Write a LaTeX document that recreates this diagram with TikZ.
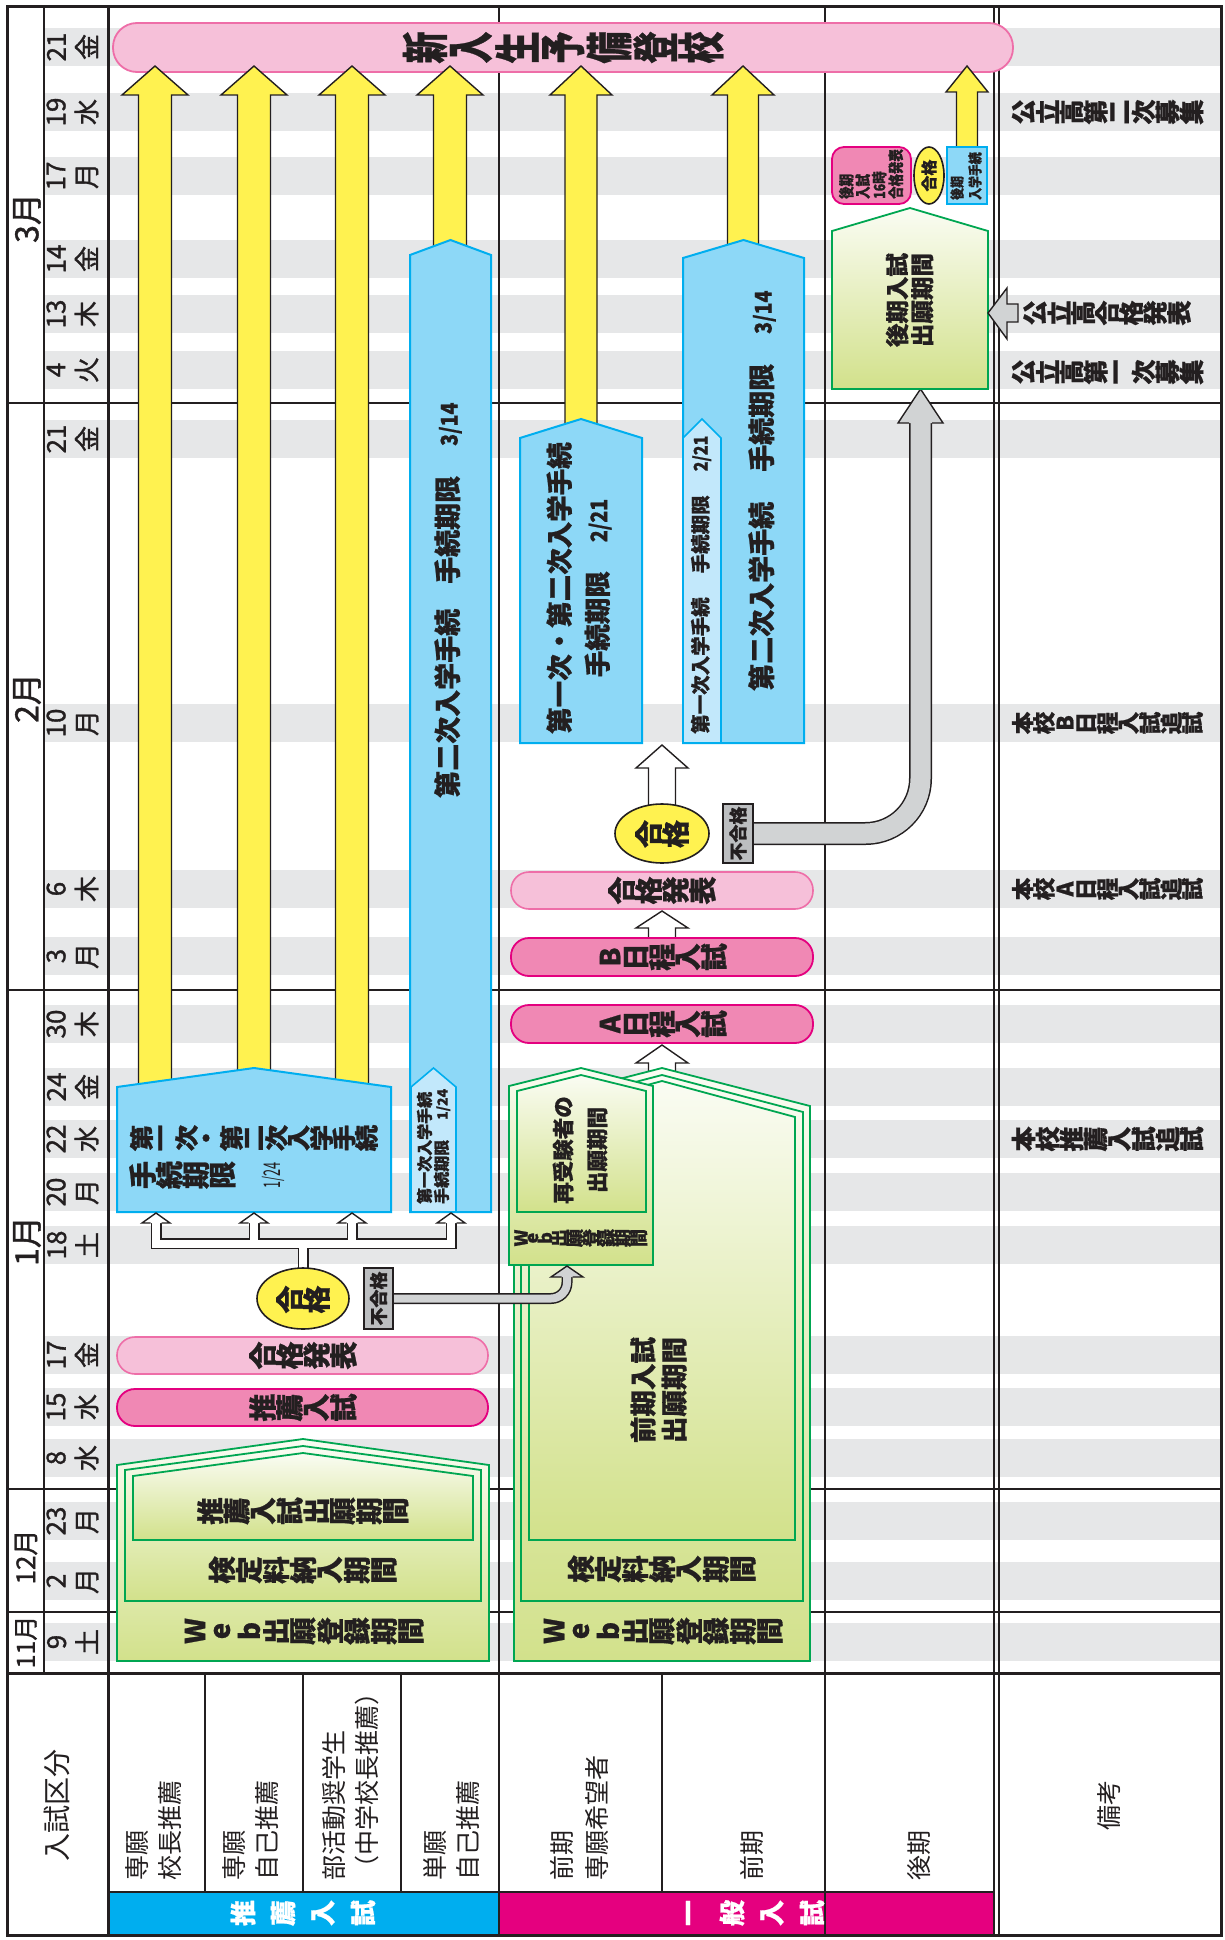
\documentclass[tikz,border=0pt]{standalone}
\usepackage{fontspec}
\setmainfont{Noto Sans CJK JP}[BoldFeatures={FakeBold=0.8}]
\newfontfamily\dfont{Noto Sans CJK JP}[FakeBold=1.2]
\usepackage{graphicx}
\definecolor{lc}{HTML}{231F20}
\definecolor{band}{HTML}{E6E7E8}
\definecolor{yel}{HTML}{FFF250}
\definecolor{bluef}{HTML}{8DD8F7}
\definecolor{bluee}{HTML}{00AEEF}
\definecolor{lblue}{HTML}{C2E8FB}
\definecolor{pinkLf}{HTML}{F6C0D9}
\definecolor{pinkLe}{HTML}{EE6EA8}
\definecolor{pinkDf}{HTML}{F088B4}
\definecolor{pinkDe}{HTML}{E4007F}
\definecolor{greene}{HTML}{00A651}
\definecolor{gtop}{HTML}{FAFCF3}
\definecolor{gbot}{HTML}{D2E18B}
\definecolor{tube}{HTML}{D1D3D4}
\definecolor{fgbox}{HTML}{BCBEC0}
\definecolor{hblue}{HTML}{00AEEF}
\definecolor{hmag}{HTML}{E5007F}
\makeatletter
\newcommand\fsz[1]{\fontsize{#1}{#1}\selectfont}
\newcommand\vst[3][1]{\vtop{\offinterlineskip\@tfor\vst@c:=#3\do{\vbox to #2{\vss\hbox to 1.2em{\hss\scalebox{#1}[1]{\vst@c}\hss}\vss}}}}
\makeatother
\newcommand\blkarrow[7][yel]{\draw[fill=#1,draw=lc,line width=1.4pt,line join=miter] ({#2-#3},#7) -- ({#2-#3},#6) -- ({#2-#4},#6) -- (#2,#5) -- ({#2+#4},#6) -- ({#2+#3},#6) -- ({#2+#3},#7);}
\tikzset{
 txt/.style={inner sep=0pt, rotate=90, text=lc},
 bl/.style={fill=bluef, draw=bluee, line width=2pt},
 lb/.style={fill=lblue, draw=bluee, line width=1.6pt},
 gr/.style={top color=gtop, bottom color=gbot, draw=greene, line width=1.8pt},
 pl/.style={fill=pinkLf, draw=pinkLe, line width=1.6pt, rounded corners=18pt},
 pd/.style={fill=pinkDf, draw=pinkDe, line width=1.8pt, rounded corners=18pt},
 yl/.style={fill=yel, draw=lc, line width=1.6pt},
 fg/.style={fill=fgbox, draw=lc, line width=1.6pt},
 bx/.style={font=\bfseries\fsz{#1}},
}
\begin{document}
\begin{tikzpicture}[x=1pt,y=-1pt]
\useasboundingbox (0,0) rectangle (1225,1940);
\fill[white] (0,0) rectangle (1225,1940);
% gray date bands
\foreach \c in {47,112,176,259,314,370,439,723,889,956,1024,1087,1139,1192,1245,1355,1407,1458,1521,1581,1642}
  \fill[band] (44,{\c-19}) rectangle (1221,{\c+19});
% header bands
\fill[hblue] (108,1892) rectangle (499,1935);
\fill[hmag] (499,1892) rectangle (994,1935);
% grid
\draw[lc, line width=1.4pt] (44,7) -- (44,1673);
\draw[lc, line width=3pt] (108,7) -- (108,1935);
\draw[lc, line width=2.5pt] (499,7) -- (499,1935);
\draw[lc, line width=2pt] (825,7) -- (825,1935);
\draw[lc, line width=1.3pt] (994,7) -- (994,1935) (999,7) -- (999,1935);
\draw[lc, line width=1.4pt] (205,1673) -- (205,1892) (303,1673) -- (303,1892) (401,1673) -- (401,1892) (662,1673) -- (662,1892);
\draw[lc, line width=2.5pt] (7,403) -- (1221,403) (7,990) -- (1221,990) (7,1489) -- (1221,1489) (7,1612) -- (1221,1612);
\draw[lc, line width=3pt] (7,1673) -- (1221,1673);
\draw[lc, line width=2pt] (108,1892) -- (994,1892);
\draw[lc, line width=3pt] (7,7) rectangle (1221,1935);

% month labels
\node[txt, font=\dfont\fsz{32}] (m3) at (27,218) {3月};
\node[txt, font=\dfont\fsz{32}] (m2) at (27,698) {2月};
\node[txt, font=\dfont\fsz{32}] (m1) at (27,1241) {1月};
\node[txt, font=\dfont\fsz{26}] (m12) at (26,1557) {12月};
\node[txt, font=\dfont\fsz{25}] (m11) at (26,1642) {11月};
% day labels
\foreach \c/\d/\w [count=\i] in {47/21/金,112/19/水,176/17/月,259/14/金,314/13/木,370/4/火,439/21/金,723/10/月,889/6/木,956/3/月,1024/30/木,1087/24/金,1139/22/水,1192/20/月,1245/18/土,1355/17/金,1407/15/水,1458/8/水,1521/23/月,1581/2/月,1642/9/土}
  \node[txt, align=center, font=\dfont\fontsize{26}{31}\selectfont] (day\i) at (72.5,\c) {\d\\\w};

% header texts
\node[txt, font=\fsz{28}] (h0) at (57,1805) {入試区分};
\node[txt, anchor=west, align=left, font=\fontsize{25}{33}\selectfont] (h1) at (154,1881) {専願\\校長推薦};
\node[txt, anchor=west, align=left, font=\fontsize{25}{33}\selectfont] (h2) at (251,1881) {専願\\自己推薦};
\node[txt, anchor=west, align=left, font=\fontsize{25}{33}\selectfont] (h3) at (351,1881) {部活動奨学生\\（中学校長推薦）};
\node[txt, anchor=west, align=left, font=\fontsize{25}{33}\selectfont] (h4) at (451,1881) {単願\\自己推薦};
\node[txt, anchor=west, align=left, font=\fontsize{25}{35}\selectfont] (h5) at (579,1881) {前期\\専願希望者};
\node[txt, anchor=west, font=\fsz{25}] (h6) at (752,1881) {前期};
\node[txt, anchor=west, font=\fsz{25}] (h7) at (919,1881) {後期};
\node[txt, font=\fsz{25}] (h8) at (1109,1805) {備考};
\node[txt, text=white, font=\bfseries\fsz{26}] (h9) at (303,1913) {\vst{40pt}{推薦入試}};
\node[txt, text=white, font=\bfseries\fsz{26}] (h10) at (752,1913) {\vst{40pt}{一般入試}};

% top pill
\draw[fill=pinkLf, draw=pinkLe, line width=1.8pt, rounded corners=24pt] (113,23) rectangle (1013,72);
% yellow arrows
\blkarrow{155}{16.5}{33}{66}{95}{1100}
\blkarrow{254}{16.5}{33}{66}{95}{1100}
\blkarrow{352}{16.5}{33}{66}{95}{1100}
\blkarrow{450}{16.5}{33}{66}{95}{270}
\blkarrow{581}{16}{31}{66}{95}{445}
\blkarrow{743}{15.5}{31}{66}{95}{270}
\blkarrow{967}{10.5}{21}{66}{92}{152}

% ===== 推薦 lane =====
\draw[bl] (117,1212) -- (117,1087) -- (254,1068) -- (391,1087) -- (391,1212) -- cycle;
\draw[bl] (410,1212) -- (410,255) -- (450.5,240) -- (491,255) -- (491,1212) -- cycle;
\draw[lb] (411,1212) -- (411,1087) -- (433.5,1068) -- (456,1087) -- (456,1212) -- cycle;
% green pentagon
\draw[gr] (117,1661) -- (117,1465) -- (303,1439) -- (489,1465) -- (489,1661) -- cycle;
\draw[gr] (125,1601) -- (125,1470) -- (303,1446) -- (481,1470) -- (481,1601) -- cycle;
\draw[gr] (133,1540) -- (133,1476) -- (303,1453) -- (473,1476) -- (473,1540) -- cycle;
% pills
\draw[pl] (117,1337) rectangle (488,1374);
\draw[pd] (117,1389) rectangle (488,1426);
% white T manifold
\draw[lc, line width=11pt] (303,1275) -- (303,1243.5);
\draw[lc, line width=11pt] (156,1223) -- (156,1243.5) -- (451,1243.5) -- (451,1223);
\draw[lc, line width=11pt] (254,1243.5) -- (254,1223) (352,1243.5) -- (352,1223);
\draw[white, line width=8pt] (156,1223) -- (156,1243.5) -- (451,1243.5) -- (451,1223);
\draw[white, line width=8pt] (254,1243.5) -- (254,1223) (352,1243.5) -- (352,1223);
\draw[white, line width=8pt] (303,1275) -- (303,1243.5);
\foreach \ax in {156,254,352,451}
  \draw[fill=white, draw=lc, line width=1.4pt] ({\ax-5.5},1223) -- ({\ax-14},1223) -- (\ax,1213) -- ({\ax+14},1223) -- ({\ax+5.5},1223);
\draw[yl] (303,1298.5) ellipse [x radius=46pt, y radius=30.5pt];

% ===== 一般 lane =====
\blkarrow[white]{662}{13.5}{26}{1045}{1063}{1085}
\draw[gr] (514,1661) -- (514,1106) -- (662,1068) -- (810,1106) -- (810,1661) -- cycle;
\draw[gr] (521,1601) -- (521,1112) -- (662,1075) -- (803,1112) -- (803,1601) -- cycle;
\draw[gr] (529,1540) -- (529,1117) -- (662,1081) -- (795,1117) -- (795,1540) -- cycle;
\draw[gr] (509,1265) -- (509,1086) -- (581,1068) -- (653,1086) -- (653,1265) -- cycle;
\draw[gr] (517,1212) -- (517,1091) -- (581,1075) -- (646,1091) -- (646,1212) -- cycle;
% gray tube 推薦 -> 再受験
\draw[lc, line width=11pt, rounded corners=16pt] (393,1298.5) -- (567,1298.5) -- (567,1277);
\draw[tube, line width=8pt, rounded corners=16pt] (392,1298.5) -- (567,1298.5) -- (567,1277);
\draw[fill=tube, draw=lc, line width=1.4pt] (561.5,1277) -- (551,1277) -- (567,1266) -- (583,1277) -- (572.5,1277);
\draw[fg] (364,1268) rectangle (393,1329);

\blkarrow[white]{662}{13.5}{26}{911}{928}{942}
\blkarrow[white]{662}{13.5}{26}{745}{768}{812}
\draw[pd] (511,1005) rectangle (813,1043);
\draw[pd] (511,938) rectangle (813,976);
\draw[pl] (511,872) rectangle (813,909);
\draw[bl] (520,743) -- (520,438) -- (581,419) -- (642,438) -- (642,743) -- cycle;
\draw[bl] (683,743) -- (683,258) -- (743.5,240) -- (804,258) -- (804,743) -- cycle;
\draw[lb] (683,743) -- (683,438) -- (702,419) -- (721,438) -- (721,743) -- cycle;
\draw[yl] (662,833.5) ellipse [x radius=47pt, y radius=29.5pt];
% gray tube 一般 -> 後期
\draw[lc, line width=23pt, rounded corners=55pt] (753,833.5) -- (920.5,833.5) -- (920.5,423);
\draw[tube, line width=20pt, rounded corners=55pt] (752,833.5) -- (920.5,833.5) -- (920.5,423);
\draw[fill=tube, draw=lc, line width=1.4pt] (909,423) -- (898,423) -- (920.5,389) -- (943,423) -- (932,423);
\draw[fg] (723,804) rectangle (753,863);

% ===== 後期 lane =====
\draw[gr] (832,389) -- (832,231) -- (910,208) -- (988,231) -- (988,389) -- cycle;
\draw[fill=pinkDf, draw=pinkDe, line width=1.8pt, rounded corners=12pt] (832,147) rectangle (911,204);
\draw[yl] (929,175.5) ellipse [x radius=15pt, y radius=28.5pt];
\draw[fill=bluef, draw=bluee, line width=1.6pt] (947,147) rectangle (987,204);
% remark arrow
\draw[fill=tube, draw=lc, line width=1.4pt] (988,313) -- (1007,288) -- (1007,304) -- (1018,304) -- (1018,322) -- (1007,322) -- (1007,339) -- cycle;

% ===== texts =====
\node[txt, font=\bfseries\fsz{47}] (title) at (563,47.5) {\vst[0.68]{46pt}{新入生予備登校}};
% 推薦
\node[txt, bx=28] (t1) at (303,1407.5) {\vst{27pt}{推薦入試}};
\node[txt, bx=28] (t2) at (303,1355.5) {\vst{27pt}{合格発表}};
\node[txt, bx=28] (t3) at (303,1299.5) {\vst{27pt}{合格}};
\node[txt, bx=18] (t4) at (378.5,1298.5) {不合格};
\node[txt, anchor=north, bx=24] (t5) at (130,1138) {\vst[1.1]{22.5pt}{第一次・第二次入学手続}};
\node[txt, anchor=north, bx=28] (t6) at (129,1175) {\vst{26.7pt}{手続期限}};
\node[txt, font=\fsz{23}] (t7) at (273.5,1175) {\scalebox{0.55}[1]{1/24}};
\node[txt, anchor=west, align=left, font=\bfseries\fontsize{16}{17}\selectfont] (t8) at (433.5,1204) {第一次入学手続\\手続期限\hspace{20pt}{\fsz{14}1/24}};
\node[txt, anchor=west, bx=27] (t9) at (448,798) {第二次入学手続\hspace{25pt}手続期限\hspace{30pt}{\fsz{23}\scalebox{0.85}[1]{3/14}}};
\node[txt, bx=27.5] (t23) at (303,1511) {\vst{26.5pt}{推薦入試出願期間}};
\node[txt, bx=27.5] (t24) at (303,1570) {\vst{27pt}{検定料納入期間}};
\node[txt, bx=27.5] (t25) at (303,1631) {\vst{27pt}{Web出願登録期間}};
% 一般
\node[txt, align=center, font=\bfseries\fontsize{26.5}{38}\selectfont] (t10) at (579,588) {第一次・第二次入学手続\\手続期限\hspace{29pt}{\fsz{23}\scalebox{0.85}[1]{2/21}}};
\node[txt, anchor=west, bx=19.5] (t11) at (701,734) {第一次入学手続\hspace{24pt}手続期限\hspace{24pt}{\fsz{19}\scalebox{0.85}[1]{2/21}}};
\node[txt, anchor=west, bx=27] (t12) at (762,691) {第二次入学手続\hspace{30pt}手続期限\hspace{30pt}{\fsz{23}\scalebox{0.85}[1]{3/14}}};
\node[txt, bx=28] (t13) at (662,834) {\vst{27pt}{合格}};
\node[txt, bx=18] (t14) at (738,833.5) {不合格};
\node[txt, bx=28] (t15) at (662,890.5) {\vst{27pt}{合格発表}};
\node[txt, bx=27.5] (t16) at (662,957) {\vst{26pt}{B日程入試}};
\node[txt, bx=27.5] (t17) at (662,1024) {\vst{26pt}{A日程入試}};
\node[txt, align=center, font=\bfseries\fontsize{21.5}{34}\selectfont] (t18) at (580,1150) {再受験者の\\出願期間};
\node[txt, bx=18] (t19) at (581,1238) {\vtop{\offinterlineskip\vst{12pt}{Web}\vst{16pt}{出願登録期間}}};
\node[txt, align=center, font=\bfseries\fontsize{26.5}{31}\selectfont] (t20) at (658.5,1390) {前期入試\\出願期間};
\node[txt, bx=27.5] (t21) at (662,1569) {\vst{27pt}{検定料納入期間}};
\node[txt, bx=27.5] (t22) at (662,1631) {\vst{27pt}{Web出願登録期間}};
% 後期
\node[txt, align=center, font=\bfseries\fontsize{23.5}{25}\selectfont] (t26) at (909.5,300) {後期入試\\出願期間};
\node[txt, anchor=west, font=\bfseries] (t27) at (871,199) {\scalebox{0.8}[1]{\vbox{\fsz{15.5}\baselineskip=16.5pt\hbox{後期}\hbox{入試}\hbox{16時}\hbox{合格発表}}}};
\node[txt, bx=16] (t28) at (929,175.5) {合格};
\node[txt, anchor=west, font=\bfseries] (t29) at (966,200) {\scalebox{0.85}[1]{\vbox{\fsz{14}\baselineskip=18pt\hbox{後期}\hbox{入学手続}}}};
% remarks
\node[txt, bx=25] (r1) at (1107.5,112) {\vst{24pt}{公立高第二次募集}};
\node[txt, bx=25] (r2) at (1107,313) {\vst{24pt}{公立高合格発表}};
\node[txt, bx=25] (r3) at (1107.5,372) {\vst{24pt}{公立高第一次募集}};
\node[txt, bx=22.5] (r4) at (1107.5,723) {\vst{21.2pt}{本校B日程入試追試}};
\node[txt, bx=22.5] (r5) at (1107.5,889) {\vst{21.2pt}{本校A日程入試追試}};
\node[txt, bx=25] (r6) at (1107.5,1139) {\vst{24pt}{本校推薦入試追試}};
\end{tikzpicture}
\end{document}
